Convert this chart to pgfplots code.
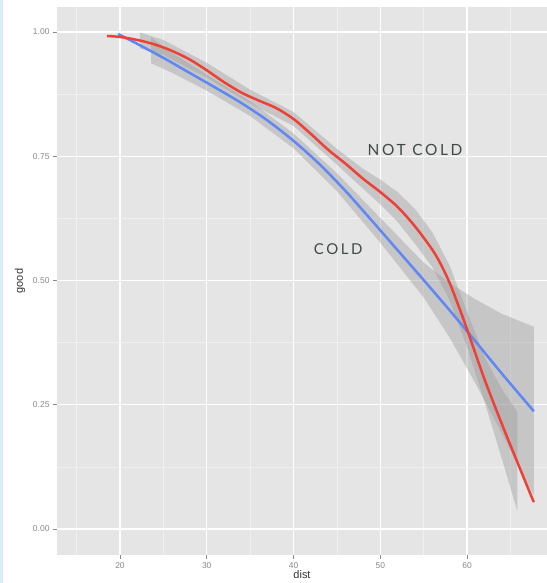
\documentclass[border=0pt]{standalone}
\usepackage{fontspec}
\setmainfont{Liberation Sans}
\newfontfamily\labelfont[LetterSpace=17]{Lato}
\usepackage{pgfplots}
\pgfplotsset{compat=1.18}
\definecolor{panelbg}{HTML}{E5E5E5}
\definecolor{minorgrid}{HTML}{F0F0F0}
\definecolor{redline}{RGB}{238,64,54}
\definecolor{blueline}{RGB}{95,135,245}
\definecolor{labeltext}{HTML}{3F4A48}
\definecolor{ticktext}{HTML}{8A8A8A}
\definecolor{edgeblue}{RGB}{214,238,250}
\definecolor{bandgray}{RGB}{153,153,153}

\begin{document}
\begin{tikzpicture}
\path[use as bounding box, fill=white] (0,0) rectangle (547bp,583bp);
\fill[edgeblue] (0,0) rectangle (2.5bp,583bp);
\begin{axis}[
  at={(57bp,28bp)}, anchor=south west,
  scale only axis, width=490bp, height=548bp,
  xmin=12.74, xmax=69.22, ymin=-0.0523, ymax=1.0503,
  axis background/.style={fill=panelbg},
  axis line style={draw=none},
  xtick={20,30,40,50,60}, ytick={0,0.25,0.5,0.75,1},
  minor xtick={15,25,35,45,55,65}, minor ytick={0.125,0.375,0.625,0.875},
  grid=both,
  major grid style={white, line width=1.1bp},
  minor grid style={minorgrid, line width=0.5bp},
  tick align=outside, major tick length=4bp, minor tick length=0pt,
  tick style={ticktext, line width=0.6bp},
  xtick pos=lower, ytick pos=left,
  /pgf/number format/assume math mode=true,
  yticklabel style={/pgf/number format/.cd, fixed, fixed zerofill, precision=2},
  ticklabel style={font=\fontsize{8.5}{10}\selectfont, text=ticktext},
  xlabel={dist}, ylabel={good},
  label style={font=\fontsize{11}{13}\selectfont, text=black!80},
  xlabel style={at={(axis description cs:0.5,-0.0365)}, anchor=center},
  ylabel style={at={(axis description cs:-0.0755,0.5)}, anchor=center},
]
% COLD band (blue)
\addplot[draw=none, fill=bandgray, fill opacity=0.4] coordinates {
 (23.6,0.989) (26,0.958) (30,0.914) (35,0.861) (40,0.796) (45,0.716) (50,0.626)
 (55,0.536) (58,0.495) (61,0.462) (64,0.433) (67.7,0.407)
 (67.7,0.067) (64,0.193) (61,0.292) (58,0.385) (55,0.466) (50,0.576)
 (45,0.680) (40,0.766) (35,0.831) (30,0.882) (26,0.918) (23.6,0.937)
};
% NOT COLD band (red)
\addplot[draw=none, fill=bandgray, fill opacity=0.4] coordinates {
 (22.3,0.999) (25,0.984) (30,0.938) (35,0.884) (40,0.839) (45,0.765) (48,0.725)
 (50,0.703) (52,0.678) (54,0.644) (56,0.597) (58,0.530) (60,0.437) (62,0.347)
 (64,0.282) (65.8,0.236)
 (65.8,0.036) (64,0.142) (62,0.257) (60,0.367) (58,0.460) (56,0.527) (54,0.574)
 (52,0.618) (50,0.653) (48,0.685) (45,0.733) (40,0.811) (35,0.856) (30,0.908)
 (25,0.954) (22.3,0.967)
};
% COLD line
\addplot[blueline, line width=2.5bp, smooth] coordinates {
 (19.8,0.996) (22,0.976) (25,0.948) (28,0.918) (31,0.888) (34,0.857) (37,0.822)
 (40,0.781) (43,0.734) (46,0.680) (49,0.621) (52,0.561) (55,0.501) (58,0.440)
 (61,0.377) (64,0.313) (67.7,0.237)
};
% NOT COLD line
\addplot[redline, line width=2.5bp, smooth] coordinates {
 (18.5,0.992) (20,0.990) (22,0.984) (24,0.975) (26,0.962) (28,0.945) (30,0.923)
 (32,0.899) (34,0.878) (36,0.862) (38,0.847) (40,0.825) (42,0.795) (44,0.763)
 (46,0.735) (48,0.705) (50,0.678) (52,0.648) (54,0.609) (56,0.562) (57,0.532)
 (58,0.495) (59,0.450) (60,0.402) (62,0.302) (64,0.212) (66,0.126) (67.7,0.054)
};
\node[font=\labelfont\fontsize{15.5}{18}\selectfont, text=labeltext] at (axis cs:54.0,0.763) {NOT COLD};
\node[font=\labelfont\fontsize{15}{18}\selectfont, text=labeltext] at (axis cs:45.15,0.563) {COLD};
\end{axis}
\end{tikzpicture}
\end{document}
